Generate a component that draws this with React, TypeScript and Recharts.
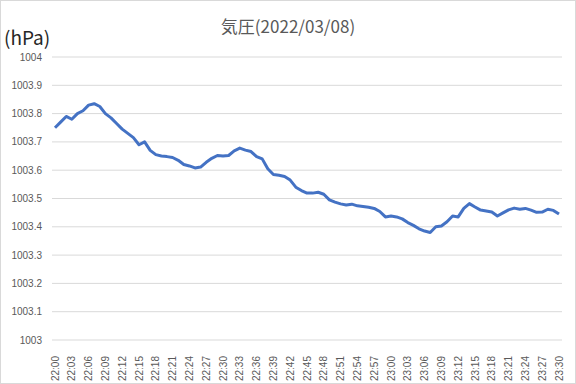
import { LineChart, Line, XAxis, YAxis, CartesianGrid } from "recharts";

const times = [
  "22:00", "22:01", "22:02", "22:03", "22:04", "22:05", "22:06", "22:07", "22:08", "22:09",
  "22:10", "22:11", "22:12", "22:13", "22:14", "22:15", "22:16", "22:17", "22:18", "22:19",
  "22:20", "22:21", "22:22", "22:23", "22:24", "22:25", "22:26", "22:27", "22:28", "22:29",
  "22:30", "22:31", "22:32", "22:33", "22:34", "22:35", "22:36", "22:37", "22:38", "22:39",
  "22:40", "22:41", "22:42", "22:43", "22:44", "22:45", "22:46", "22:47", "22:48", "22:49",
  "22:50", "22:51", "22:52", "22:53", "22:54", "22:55", "22:56", "22:57", "22:58", "22:59",
  "23:00", "23:01", "23:02", "23:03", "23:04", "23:05", "23:06", "23:07", "23:08", "23:09",
  "23:10", "23:11", "23:12", "23:13", "23:14", "23:15", "23:16", "23:17", "23:18", "23:19",
  "23:20", "23:21", "23:22", "23:23", "23:24", "23:25", "23:26", "23:27", "23:28", "23:29",
  "23:30",
];

const pressure = [
  1003.75, 1003.77, 1003.79, 1003.78, 1003.8, 1003.81, 1003.83, 1003.835, 1003.825, 1003.8,
  1003.785, 1003.765, 1003.745, 1003.73, 1003.715, 1003.69, 1003.7, 1003.67, 1003.655, 1003.65,
  1003.648, 1003.645, 1003.635, 1003.62, 1003.615, 1003.608, 1003.611, 1003.628, 1003.642, 1003.652,
  1003.65, 1003.652, 1003.668, 1003.678, 1003.671, 1003.666, 1003.648, 1003.64, 1003.605, 1003.585,
  1003.582, 1003.578, 1003.565, 1003.54, 1003.528, 1003.519, 1003.519, 1003.522, 1003.515, 1003.495,
  1003.487, 1003.481, 1003.477, 1003.48, 1003.474, 1003.472, 1003.469, 1003.465, 1003.454, 1003.435,
  1003.438, 1003.435, 1003.428, 1003.415, 1003.405, 1003.393, 1003.385, 1003.38, 1003.4, 1003.403,
  1003.418, 1003.438, 1003.435, 1003.465, 1003.482, 1003.47, 1003.459, 1003.456, 1003.452, 1003.438,
  1003.449, 1003.46, 1003.466, 1003.462, 1003.465, 1003.459, 1003.451, 1003.452, 1003.462, 1003.458,
  1003.445,
];

const yTicks = [1003, 1003.1, 1003.2, 1003.3, 1003.4, 1003.5, 1003.6, 1003.7, 1003.8, 1003.9, 1004];

const chartData = times.map((t, i) => ({ time: t, hPa: pressure[i] }));

const labelFont = "'Liberation Sans', Arial, sans-serif";

function TimeTick(props: any) {
  const { x, y, payload } = props;
  return (
    <text
      transform={`translate(${x},${y + 8}) rotate(-90)`}
      textAnchor="end"
      dominantBaseline="central"
      fontSize={10}
      fontFamily={labelFont}
      fill="#595959"
    >
      {payload.value}
    </text>
  );
}

export default function App() {
  return (
    <div style={{ position: "absolute", left: 0, top: 0, width: 576, height: 384, background: "#fff" }}>
      <LineChart
        width={576}
        height={384}
        data={chartData}
        margin={{ top: 57, right: 14, left: 0, bottom: 0 }}
      >
        <CartesianGrid vertical={false} stroke="#d9d9d9" />
        <XAxis
          dataKey="time"
          interval={2}
          height={44}
          axisLine={false}
          tickLine={false}
          padding={{ left: 3, right: 3 }}
          tick={<TimeTick />}
        />
        <YAxis
          width={52}
          domain={[1003, 1004]}
          ticks={yTicks}
          axisLine={false}
          tickLine={false}
          tickMargin={4}
          tick={{ fontSize: 10, fill: "#595959", fontFamily: labelFont }}
        />
        <Line
          type="linear"
          dataKey="hPa"
          stroke="#4472c4"
          strokeWidth={3}
          strokeLinejoin="round"
          dot={false}
          isAnimationActive={false}
        />
      </LineChart>
      <div style={titleStyle}>気圧(2022/03/08)</div>
      <div style={unitStyle}>(hPa)</div>
      <div style={borderStyle} />
    </div>
  );
}

const titleStyle: React.CSSProperties = {
  position: "absolute",
  left: 0,
  top: 14,
  width: 576,
  textAlign: "center",
  fontFamily: "'Noto Sans CJK JP', sans-serif",
  fontSize: 17,
  lineHeight: "24px",
  color: "#595959",
};

const unitStyle: React.CSSProperties = {
  position: "absolute",
  left: 4,
  top: 24,
  fontFamily: "'Noto Sans CJK JP', sans-serif",
  fontSize: 19,
  lineHeight: "26px",
  color: "#262626",
};

const borderStyle: React.CSSProperties = {
  position: "absolute",
  left: 0,
  top: 0,
  width: 576,
  height: 384,
  boxSizing: "border-box",
  border: "1px solid #d9d9d9",
  pointerEvents: "none",
};
